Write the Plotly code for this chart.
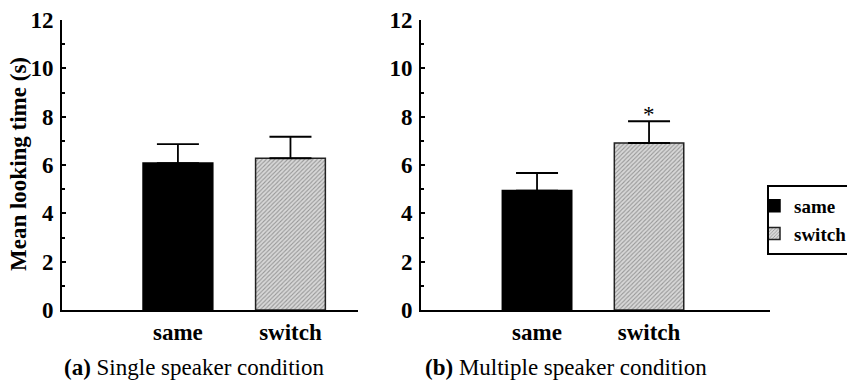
import plotly.graph_objects as go

# Data
categories = ["same", "switch"]
single_means = [6.08, 6.28]
single_err = [0.78, 0.89]
multi_means = [4.94, 6.91]
multi_err = [0.73, 0.90]
y_ticks = [0, 2, 4, 6, 8, 10, 12]
captions = ["<b>(a)</b> Single speaker condition", "<b>(b)</b> Multiple speaker condition"]

W, H = 855, 383
OFF = 8  # page body margin offset of the plot div
FONT = "Liberation Serif"

def px_x(p):
    return (p - OFF) / W

def px_y(p):
    return 1 - (p - OFF) / H

xpos = [0, 1]
bar_w = 0.62

fig = go.Figure()

styles = [
    dict(color="black", line=dict(color="black", width=1.5)),
    dict(color="#d8d8d8", line=dict(color="#222", width=1.5),
         pattern=dict(shape="/", size=3, fgcolor="#555", solidity=0.35)),
]

for panel, (means, errs) in enumerate([(single_means, single_err), (multi_means, multi_err)]):
    xa = "x" if panel == 0 else "x2"
    ya = "y" if panel == 0 else "y2"
    for i, cat in enumerate(categories):
        fig.add_trace(go.Bar(
            x=[xpos[i]], y=[means[i]], width=bar_w,
            name=cat, legendgroup=cat, showlegend=(panel == 1),
            marker=styles[i],
            error_y=dict(type="data", array=[errs[i]], arrayminus=[0], symmetric=False,
                         color="black", thickness=1.8, width=21),
            xaxis=xa, yaxis=ya,
        ))

# significance asterisk on multiple-speaker switch bar
fig.add_annotation(x=xpos[1], y=multi_means[1] + multi_err[1], xref="x2", yref="y2",
                   text="*", showarrow=False, xanchor="center", yanchor="bottom", yshift=-8,
                   font=dict(family=FONT, size=23, color="black"))

ydom = [px_y(310), px_y(20)]
yaxis_common = dict(range=[0, 12], tickvals=y_ticks, ticks="inside", ticklen=4, tickwidth=1.5,
                    tickcolor="black", showline=True, linecolor="black", linewidth=2,
                    showgrid=False, zeroline=False, automargin=False, ticklabeloverflow="allow",
                    ticklabelstandoff=2,
                    tickfont=dict(family=FONT, size=23, color="black", weight="bold"),
                    minor=dict(dtick=1, ticks="inside", ticklen=3, tickwidth=1.5, tickcolor="black"),
                    domain=ydom)
xaxis_common = dict(tickvals=xpos, ticktext=["<b>%s</b>" % c for c in categories], ticks="",
                    showline=True, automargin=False, ticklabeloverflow="allow",
                    linecolor="black", linewidth=2, showgrid=False, zeroline=False,
                    tickfont=dict(family=FONT, size=23, color="black"))

fig.update_layout(
    width=W, height=H,
    margin=dict(l=0, r=0, t=0, b=0, autoexpand=False),
    paper_bgcolor="white", plot_bgcolor="white",
    barmode="overlay",
    xaxis=dict(**xaxis_common, domain=[px_x(62), px_x(358)], range=[-1.03, 1.6], anchor="y"),
    xaxis2=dict(**xaxis_common, domain=[px_x(421), px_x(770)], range=[-1.036, 2.08], anchor="y2"),
    yaxis=dict(**yaxis_common, anchor="x"),
    yaxis2=dict(**yaxis_common, anchor="x2"),
    legend=dict(x=px_x(767), y=px_y(185), xanchor="left", yanchor="top",
                xref="container", yref="container",
                bordercolor="black", borderwidth=2, bgcolor="white",
                font=dict(family=FONT, size=19, color="black", weight="bold"),
                tracegroupgap=0, itemwidth=30, indentation=-15),
    showlegend=True,
)

# y-axis title
fig.add_annotation(x=px_x(18), y=px_y(164), xref="paper", yref="paper",
                   xanchor="center", yanchor="middle",
                   text="<b>Mean looking time (s)</b>", textangle=-90, showarrow=False,
                   font=dict(family=FONT, size=23, color="black"))

# captions
fig.add_annotation(x=px_x(194), y=px_y(367), xref="paper", yref="paper", text=captions[0],
                   xanchor="center", yanchor="middle",
                   showarrow=False, font=dict(family=FONT, size=23, color="black"))
fig.add_annotation(x=px_x(566), y=px_y(367), xref="paper", yref="paper", text=captions[1],
                   xanchor="center", yanchor="middle",
                   showarrow=False, font=dict(family=FONT, size=23, color="black"))

fig.write_html("out.html")
